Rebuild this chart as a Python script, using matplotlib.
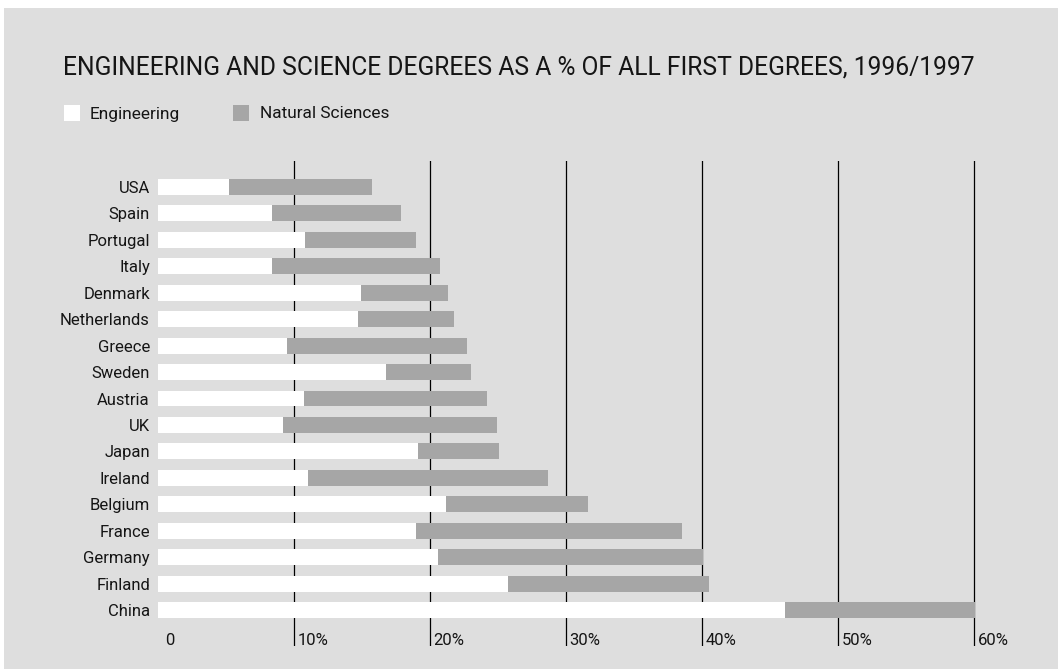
import matplotlib
matplotlib.use("Agg")
import matplotlib.pyplot as plt
from matplotlib.patches import Rectangle

kraje = ["USA", "Spain", "Portugal", "Italy", "Denmark", "Netherlands", "Greece", "Sweden",
         "Austria", "UK", "Japan", "Ireland", "Belgium", "France", "Germany", "Finland", "China"]
engineering = [5.2, 8.4, 10.8, 8.4, 14.9, 14.7, 9.5, 16.8, 10.7, 9.2, 19.1, 11.0, 21.2, 19.0, 20.6, 25.7, 46.1]
natural_sciences = [10.5, 9.5, 8.2, 12.3, 6.4, 7.1, 13.2, 6.2, 13.5, 15.7, 6.0, 17.7, 10.4, 19.5, 19.5, 14.8, 14.0]
siatka = [10, 20, 30, 40, 50, 60]
etykiety_x = ["0", "10%", "20%", "30%", "40%", "50%", "60%"]

tło = "#dedede"
szary = "#a6a6a6"
tekst = "#151515"
plt.rcParams["font.family"] = ["Roboto", "DejaVu Sans"]

W, H = 1058, 670
fig = plt.figure(figsize=(W / 100, H / 100), dpi=100, facecolor="white")

# szare tło całego wykresu (pod osiami)
fig.patches.append(Rectangle((4 / W, 0.0015), 1 - 4 / W, 1 - 8 / H - 0.0015,
                             transform=fig.transFigure, facecolor=tło, edgecolor="none", zorder=-5))

# os: 0% na x=158 px, 13.6 px na 1%; wiersze co 26.44 px
x0, px_na_proc = 158, 13.6
góra, dół = 161, 646
ax = fig.add_axes([x0 / W, 1 - dół / H, 65 * px_na_proc / W, (dół - góra) / H])
ax.set_facecolor("none")
krok = 26.44
ax.set_xlim(0, 65)
ax.set_ylim(16 + (dół - 610) / krok, -(187 - góra) / krok)

y = range(len(kraje))
for v in siatka:
    ax.axvline(v, color="black", lw=0.9, zorder=1)
ax.barh(y, engineering, height=0.605, color="white", zorder=2)
ax.barh(y, natural_sciences, left=engineering, height=0.605, color=szary, zorder=2)

ax.set_yticks(list(y))
ax.set_yticklabels(kraje, fontsize=12, color=tekst)
ax.tick_params(axis="y", length=0, pad=5.8)
ax.set_xticks([])
for s in ax.spines.values():
    s.set_visible(False)

# opisy osi x przy dolnych końcach linii siatki
for v, lab in zip([0] + siatka, etykiety_x):
    dx = 0.5 if v == 0 else 0.25
    ax.text(v + dx, 0.011, lab, transform=ax.get_xaxis_transform(), ha="left", va="center",
            fontsize=12, color=tekst)

fig.text(63 / W, 1 - 67 / H, "ENGINEERING AND SCIENCE DEGREES AS A % OF ALL FIRST DEGREES, 1996/1997",
         fontsize=17.78, color=tekst, ha="left", va="center")

# legenda
for (xk, xt, kolor, nazwa) in [(64, 90, "white", "Engineering"), (233, 260, szary, "Natural Sciences")]:
    fig.patches.append(Rectangle((xk / W, 1 - 121 / H), 16 / W, 16 / H, transform=fig.transFigure,
                                 facecolor=kolor, edgecolor="none"))
    fig.text(xt / W, 1 - 114 / H, nazwa, fontsize=12.4, color=tekst, ha="left", va="center")

fig.savefig("out.png", dpi=100, facecolor="white")
